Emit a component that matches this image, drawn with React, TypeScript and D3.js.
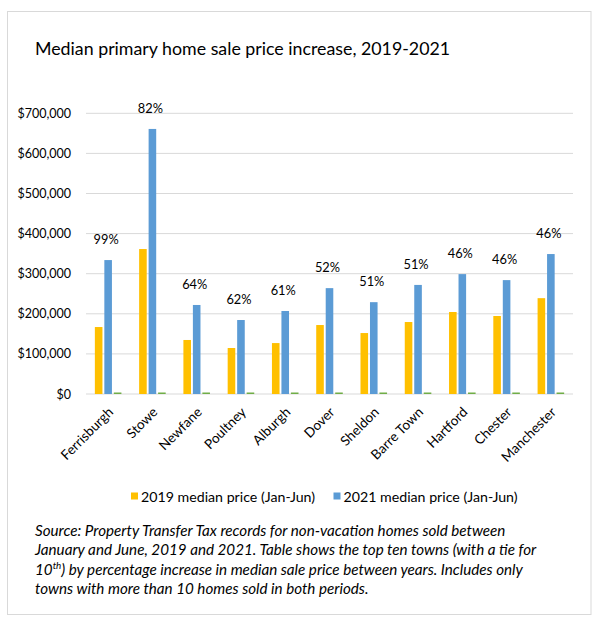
import * as d3 from "d3";
import { useEffect, useRef } from "react";

const towns = [
  "Ferrisburgh",
  "Stowe",
  "Newfane",
  "Poultney",
  "Alburgh",
  "Dover",
  "Sheldon",
  "Barre Town",
  "Hartford",
  "Chester",
  "Manchester",
];
const price2019 = [167000, 361500, 134700, 114700, 127000, 172000, 152000, 179500, 204500, 194500, 239000];
const price2021 = [334000, 661000, 222000, 184500, 207000, 264000, 229000, 272000, 299000, 284000, 349000];
const pctIncrease = [0.99, 0.82, 0.64, 0.62, 0.61, 0.52, 0.51, 0.51, 0.46, 0.46, 0.46];
const yTicks = [0, 100000, 200000, 300000, 400000, 500000, 600000, 700000];
const seriesNames = ["2019 median price (Jan-Jun)", "2021 median price (Jan-Jun)", "Percent increase"];
const sourceLines = [
  "Source: Property Transfer Tax records for non-vacation homes sold between",
  "January and June, 2019 and 2021. Table shows the top ten towns (with a tie for",
  "10|th|) by percentage increase in median sale price between years. Includes only",
  "towns with more than 10 homes sold in both periods.",
];

const W = 598;
const H = 625;
const FONT = "Lato, 'Open Sans', sans-serif";
const colors = ["#FFC000", "#5B9BD5", "#70AD47"];

export default function App() {
  const ref = useRef<SVGSVGElement | null>(null);

  useEffect(() => {
    document.body.style.margin = "0";
    const svg = d3.select(ref.current);
    svg.selectAll("*").remove();
    svg.attr("width", W).attr("height", H).style("font-family", FONT);

    svg
      .append("rect")
      .attr("x", 7.5)
      .attr("y", 11.5)
      .attr("width", 583.5)
      .attr("height", 603)
      .attr("fill", "#fff")
      .attr("stroke", "#d9d9d9");

    svg
      .append("text")
      .attr("x", 35)
      .attr("y", 55)
      .style("font-size", "17.8px")
      .attr("fill", "#000")
      .text("Median primary home sale price increase, 2019-2021");

    const x0 = d3.scaleBand<string>().domain(towns).range([86, 573]).paddingInner(0.4).paddingOuter(0.2);
    const x1 = d3.scaleBand<number>().domain([0, 1, 2]).range([0, x0.bandwidth()]).paddingInner(0.2);
    const y = d3.scaleLinear().domain([0, 700000]).range([394, 113.3]);

    // gridlines + y labels
    const grid = svg.append("g");
    yTicks.forEach((t) => {
      grid
        .append("line")
        .attr("x1", 86)
        .attr("x2", 573)
        .attr("y1", y(t))
        .attr("y2", y(t))
        .attr("stroke", "#d9d9d9")
        .attr("stroke-width", 1);
      grid
        .append("text")
        .attr("x", 71)
        .attr("y", y(t))
        .attr("dy", "0.36em")
        .attr("text-anchor", "end")
        .style("font-size", "12.5px")
        .attr("fill", "#000")
        .text(d3.format("$,")(t));
    });

    const series = [price2019, price2021, pctIncrease];
    const bars = svg.append("g");
    towns.forEach((town, i) => {
      series.forEach((vals, s) => {
        const v = vals[i];
        const h = Math.max(1.5, y(0) - y(v));
        bars
          .append("rect")
          .attr("x", x0(town)! + x1(s)!)
          .attr("y", y(0) - h)
          .attr("width", x1.bandwidth())
          .attr("height", h)
          .attr("fill", colors[s]);
      });
      const cx = x0(town)! + x0.bandwidth() / 2;
      svg
        .append("text")
        .attr("x", cx - 2)
        .attr("y", y(price2021[i]) - 21)
        .attr("dy", "0.36em")
        .attr("text-anchor", "middle")
        .style("font-size", "12.8px")
        .attr("fill", "#000")
        .text(d3.format(".0%")(pctIncrease[i]));
      svg
        .append("text")
        .attr("transform", `translate(${cx + 6},${413}) rotate(-45)`)
        .attr("text-anchor", "end")
        .style("font-size", "13.5px")
        .attr("fill", "#000")
        .text(town);
    });

    // legend
    const legend = svg.append("g");
    [
      { x: 131, i: 0 },
      { x: 333.5, i: 1 },
    ].forEach(({ x, i }) => {
      legend
        .append("rect")
        .attr("x", x)
        .attr("y", 492.5)
        .attr("width", 7)
        .attr("height", 7)
        .attr("fill", colors[i]);
      legend
        .append("text")
        .attr("x", x + 10)
        .attr("y", 501.5)
        .style("font-size", "14.2px")
        .attr("fill", "#000")
        .text(seriesNames[i]);
    });

    // source note
    sourceLines.forEach((line, k) => {
      const t = svg
        .append("text")
        .attr("x", 35)
        .attr("y", 535.5 + k * 19.6)
        .style("font-size", "15.2px")
        .style("font-style", "italic")
        .attr("fill", "#000");
      const parts = line.split("|");
      if (parts.length === 3) {
        t.append("tspan").text(parts[0]);
        t.append("tspan").attr("dy", -5.5).style("font-size", "9.8px").text(parts[1]);
        t.append("tspan").attr("dy", 5.5).text(parts[2]);
      } else {
        t.text(line);
      }
    });
  }, []);

  return <svg ref={ref}></svg>;
}
